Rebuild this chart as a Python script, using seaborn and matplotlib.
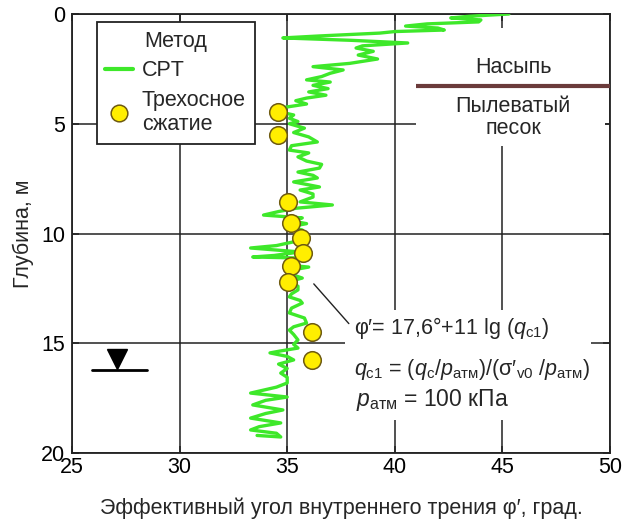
import matplotlib
matplotlib.use("Agg")
import matplotlib.pyplot as plt
from matplotlib.patches import Rectangle
from matplotlib.lines import Line2D
import seaborn as sns
import pandas as pd

# ---- data ----
cpt_depth = [0.00, 0.10, 0.18, 0.27, 0.36, 0.45, 0.55, 0.64, 0.73, 0.80, 0.87, 1.00, 1.09, 1.20, 1.32,
             1.45, 1.55, 1.70, 1.87, 2.05, 2.25, 2.40, 2.55, 2.70, 2.85, 3.00, 3.10, 3.25, 3.40, 3.55,
             3.70, 3.83, 3.95, 4.10, 4.25, 4.45, 4.60, 4.75, 4.90, 5.00, 5.20, 5.40, 5.60, 5.83, 6.00,
             6.20, 6.33, 6.51, 6.70, 6.85, 7.02, 7.20, 7.35, 7.47, 7.65, 7.88, 8.02, 8.20, 8.34, 8.56,
             8.70, 8.85, 9.00, 9.16, 9.29, 9.39, 9.55, 9.70, 9.84, 10.07, 10.25, 10.40, 10.55, 10.66,
             10.84, 11.00, 11.07, 11.12, 11.30, 11.44, 11.53, 11.65, 11.80, 12.03, 12.21, 12.40, 12.57,
             12.75, 12.89, 13.05, 13.17, 13.40, 13.62, 13.85, 14.08, 14.25, 14.40, 14.60, 14.85, 15.05,
             15.22, 15.35, 15.44, 15.60, 15.76, 15.95, 16.15, 16.36, 16.55, 16.81, 17.00, 17.27, 17.45,
             17.60, 17.81, 18.04, 18.20, 18.41, 18.63, 18.80, 18.95, 19.10, 19.27, 19.20]
cpt_phi = [45.3, 43.5, 42.6, 44.0, 43.9, 41.5, 40.5, 42.0, 42.3, 40.0, 39.3, 36.5, 34.8, 38.0, 40.6,
           38.5, 38.2, 39.0, 38.3, 39.2, 37.9, 36.2, 37.6, 37.0, 36.6, 35.9, 37.0, 36.2, 36.9, 36.0,
           36.8, 35.9, 35.4, 35.9, 34.9, 34.6, 35.3, 35.1, 35.5, 35.1, 35.8, 35.3, 36.0, 36.4, 35.2,
           35.1, 36.0, 35.5, 35.9, 36.6, 36.5, 35.5, 36.2, 36.4, 35.3, 36.5, 35.6, 36.2, 36.2, 35.6,
           37.1, 35.4, 34.6, 33.9, 35.7, 35.0, 35.9, 35.1, 35.7, 35.6, 35.9, 35.2, 34.5, 33.3,
           35.6, 34.4, 33.4, 35.7, 35.3, 35.0, 36.0, 35.3, 35.0, 35.7, 35.0, 35.5, 35.5,
           35.2, 35.1, 35.6, 35.7, 35.2, 35.1, 35.8, 35.9, 35.3, 35.1, 35.3, 35.5, 35.3,
           35.5, 34.7, 34.2, 35.0, 35.3, 34.6, 35.0, 34.7, 35.0, 35.0, 34.5, 33.3, 35.0,
           34.0, 33.4, 34.8, 34.0, 33.3, 34.7, 33.7, 33.3, 34.5, 34.7, 33.6]
triax_depth = [4.45, 5.50, 8.55, 9.52, 10.2, 10.9, 11.5, 12.2, 14.5, 15.75]
triax_phi = [34.57, 34.57, 35.04, 35.18, 35.62, 35.72, 35.18, 35.04, 36.15, 36.15]

x_ticks = [25, 30, 35, 40, 45, 50]
y_ticks = [0, 5, 10, 15, 20]
fill_boundary_depth = 3.28
water_table_depth = 16.22

# ---- style ----
sns.set_theme(style="ticks")
plt.rcParams["font.family"] = ["Liberation Sans", "DejaVu Sans"]
plt.rcParams["mathtext.fontset"] = "custom"
plt.rcParams["mathtext.rm"] = "Liberation Sans"
plt.rcParams["mathtext.it"] = "Liberation Sans:italic"
plt.rcParams["mathtext.bf"] = "Liberation Sans:bold"

fig = plt.figure(figsize=(6.24, 5.28), dpi=100)
ax = fig.add_axes([72 / 624, 1 - 453 / 528, 538 / 624, 439 / 528])

GREEN = "#3ee82a"
fs = 15.5

cpt = pd.DataFrame({"phi": cpt_phi, "depth": cpt_depth})
tri = pd.DataFrame({"phi": triax_phi, "depth": triax_depth})

sns.lineplot(data=cpt, x="phi", y="depth", sort=False, estimator=None,
             color=GREEN, lw=2.4, ax=ax, zorder=5)
sns.scatterplot(data=tri, x="phi", y="depth", s=160, color="#ffee00",
                edgecolor="#6e5a10", linewidth=1.1, ax=ax, zorder=6)

ax.set_xlim(25, 50)
ax.set_ylim(20, 0)
ax.set_xticks(x_ticks)
ax.set_yticks(y_ticks)
ax.grid(True, color="#222222", lw=1.1)
ax.set_axisbelow(True)
for s in ax.spines.values():
    s.set_linewidth(1.3)
    s.set_color("#222222")
ax.tick_params(direction="in", top=True, right=True, length=5, width=1.1,
               labelsize=fs, colors="#222222", labelcolor="black")
ax.tick_params(axis="x", pad=3)
ax.tick_params(axis="y", pad=5)

ax.set_xlabel("Эффективный угол внутреннего трения φ′, град.", fontsize=fs, labelpad=14)
ax.set_ylabel("Глубина, м", fontsize=fs, labelpad=5)

# white masks behind text blocks (hide grid)
ax.add_patch(Rectangle((41.0, 0.65), 8.75, 5.35, facecolor="white", edgecolor="none", zorder=2))
ax.add_patch(Rectangle((37.7, 13.5), 11.4, 5.0, facecolor="white", edgecolor="none", zorder=2))

# layer boundary
ax.plot([41.0, 50], [fill_boundary_depth, fill_boundary_depth], color="#6b3b3b", lw=3, zorder=4,
        solid_capstyle="butt")
ax.text(45.5, 2.45, "Насыпь", ha="center", va="center", fontsize=fs, zorder=4)
ax.text(45.5, 4.7, "Пылеватый\nпесок", ha="center", va="center", fontsize=fs,
        linespacing=1.05, zorder=4)

# formula annotation
ax.annotate("", xy=(36.15, 12.2), xytext=(37.95, 14.2),
            arrowprops=dict(arrowstyle="-", color="#222222", lw=1), zorder=4)
ax.text(38.1, 14.3, r"φ′= 17,6°+11 lg ($q_{\mathrm{c1}}$)", ha="left", va="center",
        fontsize=fs, zorder=4)
ax.text(38.1, 16.2,
        r"$q_{\mathrm{c1}}$ = ($q_{\mathrm{c}}$/$p_{\mathrm{атм}}$)/(σ′$_{\mathrm{v0}}$ /$p_{\mathrm{атм}}$)",
        ha="left", va="center", fontsize=fs, zorder=4)
ax.text(38.2, 17.6, r"$p_{\mathrm{атм}}$ = 100 кПа", ha="left", va="center",
        fontsize=fs + 1, zorder=4)

# water table symbol
ax.plot([25.93, 28.49], [water_table_depth, water_table_depth], color="black", lw=2, zorder=4)
ax.plot([27.09], [15.72], marker="v", markersize=15, color="black", zorder=4)

# legend
handles = [Line2D([0], [0], color=GREEN, lw=3),
           Line2D([0], [0], marker="o", ls="none", markersize=12, markerfacecolor="#ffee00",
                  markeredgecolor="#6e5a10", markeredgewidth=1.1)]
leg = ax.legend(handles, ["CPT", "Трехосное\nсжатие"], title="Метод", loc="upper left",
                bbox_to_anchor=(0.046, 0.982), fontsize=fs, title_fontsize=fs,
                frameon=True, fancybox=False, framealpha=1, edgecolor="#222222",
                handlelength=1.3, handletextpad=0.4, borderpad=0.4, labelspacing=0.4,
                borderaxespad=0)
leg.get_frame().set_linewidth(1.3)
leg.set_zorder(10)

fig.savefig("out.png", dpi=100)
